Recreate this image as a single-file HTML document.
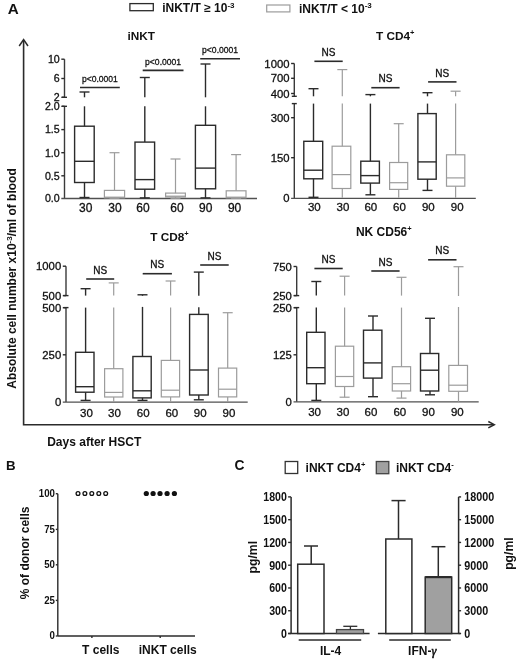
<!DOCTYPE html>
<html><head><meta charset="utf-8"><style>
html,body{margin:0;padding:0;background:#fff;}
svg{display:block;font-family:"Liberation Sans",sans-serif;will-change:transform;}
</style></head><body>
<svg width="520" height="661" viewBox="0 0 520 661">
<rect width="520" height="661" fill="#fff"/>
<line x1="64.50" y1="59.20" x2="64.50" y2="97.30" stroke="#3a3a3a" stroke-width="1.4"/>
<line x1="64.50" y1="106.30" x2="64.50" y2="198.50" stroke="#3a3a3a" stroke-width="1.4"/>
<line x1="62.00" y1="97.30" x2="67.00" y2="97.30" stroke="#2b2b2b" stroke-width="1.4"/>
<line x1="62.00" y1="106.30" x2="67.00" y2="106.30" stroke="#2b2b2b" stroke-width="1.4"/>
<line x1="61.30" y1="59.20" x2="64.50" y2="59.20" stroke="#2b2b2b" stroke-width="1.4"/>
<text x="59.70" y="63.02" font-size="10.6" text-anchor="end" stroke="#111" stroke-width="0.3" fill="#111">10</text>
<line x1="61.30" y1="78.50" x2="64.50" y2="78.50" stroke="#2b2b2b" stroke-width="1.4"/>
<text x="59.70" y="82.32" font-size="10.6" text-anchor="end" stroke="#111" stroke-width="0.3" fill="#111">6</text>
<line x1="61.30" y1="97.30" x2="64.50" y2="97.30" stroke="#2b2b2b" stroke-width="1.4"/>
<text x="59.70" y="101.12" font-size="10.6" text-anchor="end" stroke="#111" stroke-width="0.3" fill="#111">2</text>
<line x1="61.30" y1="106.30" x2="64.50" y2="106.30" stroke="#2b2b2b" stroke-width="1.4"/>
<text x="59.70" y="110.12" font-size="10.6" text-anchor="end" stroke="#111" stroke-width="0.3" fill="#111">2.0</text>
<line x1="61.30" y1="129.60" x2="64.50" y2="129.60" stroke="#2b2b2b" stroke-width="1.4"/>
<text x="59.70" y="133.42" font-size="10.6" text-anchor="end" stroke="#111" stroke-width="0.3" fill="#111">1.5</text>
<line x1="61.30" y1="152.70" x2="64.50" y2="152.70" stroke="#2b2b2b" stroke-width="1.4"/>
<text x="59.70" y="156.52" font-size="10.6" text-anchor="end" stroke="#111" stroke-width="0.3" fill="#111">1.0</text>
<line x1="61.30" y1="175.80" x2="64.50" y2="175.80" stroke="#2b2b2b" stroke-width="1.4"/>
<text x="59.70" y="179.62" font-size="10.6" text-anchor="end" stroke="#111" stroke-width="0.3" fill="#111">0.5</text>
<line x1="61.30" y1="198.50" x2="257.00" y2="198.50" stroke="#505050" stroke-width="1.3"/>
<text x="59.70" y="202.30" font-size="10.6" text-anchor="end" stroke="#111" stroke-width="0.3" fill="#111">0.0</text>
<rect x="74.60" y="126.20" width="19.60" height="56.30" stroke="#2b2b2b" stroke-width="1.4" fill="none"/>
<line x1="74.60" y1="161.30" x2="94.20" y2="161.30" stroke="#2b2b2b" stroke-width="1.4"/>
<line x1="84.50" y1="92.00" x2="84.50" y2="97.30" stroke="#2b2b2b" stroke-width="1.4"/>
<line x1="84.50" y1="106.30" x2="84.50" y2="126.20" stroke="#2b2b2b" stroke-width="1.4"/>
<line x1="79.50" y1="92.00" x2="89.50" y2="92.00" stroke="#2b2b2b" stroke-width="1.4"/>
<line x1="84.50" y1="182.50" x2="84.50" y2="197.50" stroke="#2b2b2b" stroke-width="1.4"/>
<line x1="79.50" y1="197.50" x2="89.50" y2="197.50" stroke="#2b2b2b" stroke-width="1.4"/>
<rect x="104.40" y="190.40" width="20.20" height="7.50" stroke="#9c9c9c" stroke-width="1.2" fill="none"/>
<line x1="104.40" y1="197.20" x2="124.60" y2="197.20" stroke="#9c9c9c" stroke-width="1.2"/>
<line x1="114.50" y1="152.70" x2="114.50" y2="190.40" stroke="#9c9c9c" stroke-width="1.2"/>
<line x1="109.50" y1="152.70" x2="119.50" y2="152.70" stroke="#9c9c9c" stroke-width="1.2"/>
<line x1="114.50" y1="197.90" x2="114.50" y2="198.30" stroke="#9c9c9c" stroke-width="1.2"/>
<line x1="109.50" y1="198.30" x2="119.50" y2="198.30" stroke="#9c9c9c" stroke-width="1.2"/>
<rect x="135.00" y="142.10" width="19.60" height="47.10" stroke="#2b2b2b" stroke-width="1.4" fill="none"/>
<line x1="135.00" y1="179.60" x2="154.60" y2="179.60" stroke="#2b2b2b" stroke-width="1.4"/>
<line x1="144.80" y1="77.50" x2="144.80" y2="97.30" stroke="#2b2b2b" stroke-width="1.4"/>
<line x1="144.80" y1="106.30" x2="144.80" y2="142.10" stroke="#2b2b2b" stroke-width="1.4"/>
<line x1="139.80" y1="77.50" x2="149.80" y2="77.50" stroke="#2b2b2b" stroke-width="1.4"/>
<line x1="144.80" y1="189.20" x2="144.80" y2="197.90" stroke="#2b2b2b" stroke-width="1.4"/>
<line x1="139.80" y1="197.90" x2="149.80" y2="197.90" stroke="#2b2b2b" stroke-width="1.4"/>
<rect x="165.60" y="193.10" width="19.80" height="3.90" stroke="#9c9c9c" stroke-width="1.2" fill="none"/>
<line x1="165.60" y1="196.20" x2="185.40" y2="196.20" stroke="#9c9c9c" stroke-width="1.2"/>
<line x1="175.50" y1="159.00" x2="175.50" y2="193.10" stroke="#9c9c9c" stroke-width="1.2"/>
<line x1="170.50" y1="159.00" x2="180.50" y2="159.00" stroke="#9c9c9c" stroke-width="1.2"/>
<line x1="175.50" y1="197.00" x2="175.50" y2="198.30" stroke="#9c9c9c" stroke-width="1.2"/>
<line x1="170.50" y1="198.30" x2="180.50" y2="198.30" stroke="#9c9c9c" stroke-width="1.2"/>
<rect x="195.40" y="125.30" width="20.20" height="63.50" stroke="#2b2b2b" stroke-width="1.4" fill="none"/>
<line x1="195.40" y1="168.10" x2="215.60" y2="168.10" stroke="#2b2b2b" stroke-width="1.4"/>
<line x1="205.50" y1="64.00" x2="205.50" y2="97.30" stroke="#2b2b2b" stroke-width="1.4"/>
<line x1="205.50" y1="106.30" x2="205.50" y2="125.30" stroke="#2b2b2b" stroke-width="1.4"/>
<line x1="200.50" y1="64.00" x2="210.50" y2="64.00" stroke="#2b2b2b" stroke-width="1.4"/>
<line x1="205.50" y1="188.80" x2="205.50" y2="197.90" stroke="#2b2b2b" stroke-width="1.4"/>
<line x1="200.50" y1="197.90" x2="210.50" y2="197.90" stroke="#2b2b2b" stroke-width="1.4"/>
<rect x="226.20" y="190.80" width="19.80" height="7.10" stroke="#9c9c9c" stroke-width="1.2" fill="none"/>
<line x1="226.20" y1="197.20" x2="246.00" y2="197.20" stroke="#9c9c9c" stroke-width="1.2"/>
<line x1="236.10" y1="154.60" x2="236.10" y2="190.80" stroke="#9c9c9c" stroke-width="1.2"/>
<line x1="231.10" y1="154.60" x2="241.10" y2="154.60" stroke="#9c9c9c" stroke-width="1.2"/>
<line x1="236.10" y1="197.90" x2="236.10" y2="198.30" stroke="#9c9c9c" stroke-width="1.2"/>
<line x1="231.10" y1="198.30" x2="241.10" y2="198.30" stroke="#9c9c9c" stroke-width="1.2"/>
<line x1="80.00" y1="87.50" x2="119.80" y2="87.50" stroke="#2b2b2b" stroke-width="1.6"/>
<text x="99.90" y="82.10" font-size="9.6" text-anchor="middle" stroke="#111" stroke-width="0.3" fill="#111" textLength="36" lengthAdjust="spacingAndGlyphs">p&lt;0.0001</text>
<line x1="142.70" y1="70.40" x2="183.50" y2="70.40" stroke="#2b2b2b" stroke-width="1.6"/>
<text x="163.10" y="65.00" font-size="9.6" text-anchor="middle" stroke="#111" stroke-width="0.3" fill="#111" textLength="36" lengthAdjust="spacingAndGlyphs">p&lt;0.0001</text>
<line x1="200.20" y1="58.80" x2="240.00" y2="58.80" stroke="#2b2b2b" stroke-width="1.6"/>
<text x="220.10" y="53.40" font-size="9.6" text-anchor="middle" stroke="#111" stroke-width="0.3" fill="#111" textLength="36" lengthAdjust="spacingAndGlyphs">p&lt;0.0001</text>
<text x="85.80" y="211.50" font-size="12" text-anchor="middle" stroke="#111" stroke-width="0.3" fill="#111">30</text>
<text x="114.90" y="211.50" font-size="12" text-anchor="middle" stroke="#111" stroke-width="0.3" fill="#111">30</text>
<text x="143.00" y="211.50" font-size="12" text-anchor="middle" stroke="#111" stroke-width="0.3" fill="#111">60</text>
<text x="177.00" y="211.50" font-size="12" text-anchor="middle" stroke="#111" stroke-width="0.3" fill="#111">60</text>
<text x="205.80" y="211.50" font-size="12" text-anchor="middle" stroke="#111" stroke-width="0.3" fill="#111">90</text>
<text x="234.60" y="211.50" font-size="12" text-anchor="middle" stroke="#111" stroke-width="0.3" fill="#111">90</text>
<text x="141.30" y="40.20" font-size="11.8" text-anchor="middle" font-weight="bold" fill="#111">iNKT</text>
<line x1="294.30" y1="63.50" x2="294.30" y2="96.30" stroke="#3a3a3a" stroke-width="1.4"/>
<line x1="294.30" y1="103.60" x2="294.30" y2="198.00" stroke="#3a3a3a" stroke-width="1.4"/>
<line x1="291.80" y1="96.30" x2="296.80" y2="96.30" stroke="#2b2b2b" stroke-width="1.4"/>
<line x1="291.80" y1="103.60" x2="296.80" y2="103.60" stroke="#2b2b2b" stroke-width="1.4"/>
<line x1="291.10" y1="63.50" x2="294.30" y2="63.50" stroke="#2b2b2b" stroke-width="1.4"/>
<text x="289.50" y="67.57" font-size="11.3" text-anchor="end" stroke="#111" stroke-width="0.3" fill="#111">1000</text>
<line x1="291.10" y1="78.30" x2="294.30" y2="78.30" stroke="#2b2b2b" stroke-width="1.4"/>
<text x="289.50" y="82.37" font-size="11.3" text-anchor="end" stroke="#111" stroke-width="0.3" fill="#111">700</text>
<line x1="291.10" y1="93.50" x2="294.30" y2="93.50" stroke="#2b2b2b" stroke-width="1.4"/>
<text x="289.50" y="97.57" font-size="11.3" text-anchor="end" stroke="#111" stroke-width="0.3" fill="#111">400</text>
<line x1="291.10" y1="117.70" x2="294.30" y2="117.70" stroke="#2b2b2b" stroke-width="1.4"/>
<text x="289.50" y="121.77" font-size="11.3" text-anchor="end" stroke="#111" stroke-width="0.3" fill="#111">300</text>
<line x1="291.10" y1="157.70" x2="294.30" y2="157.70" stroke="#2b2b2b" stroke-width="1.4"/>
<text x="289.50" y="161.77" font-size="11.3" text-anchor="end" stroke="#111" stroke-width="0.3" fill="#111">150</text>
<line x1="291.10" y1="198.30" x2="475.80" y2="198.30" stroke="#505050" stroke-width="1.3"/>
<text x="289.50" y="202.00" font-size="11.3" text-anchor="end" stroke="#111" stroke-width="0.3" fill="#111">0</text>
<rect x="303.80" y="141.30" width="18.90" height="37.50" stroke="#2b2b2b" stroke-width="1.4" fill="none"/>
<line x1="303.80" y1="170.20" x2="322.70" y2="170.20" stroke="#2b2b2b" stroke-width="1.4"/>
<line x1="313.50" y1="88.70" x2="313.50" y2="96.30" stroke="#2b2b2b" stroke-width="1.4"/>
<line x1="313.50" y1="103.60" x2="313.50" y2="141.30" stroke="#2b2b2b" stroke-width="1.4"/>
<line x1="308.50" y1="88.70" x2="318.50" y2="88.70" stroke="#2b2b2b" stroke-width="1.4"/>
<line x1="313.50" y1="178.80" x2="313.50" y2="197.30" stroke="#2b2b2b" stroke-width="1.4"/>
<line x1="308.50" y1="197.30" x2="318.50" y2="197.30" stroke="#2b2b2b" stroke-width="1.4"/>
<rect x="332.10" y="146.20" width="18.70" height="42.30" stroke="#9c9c9c" stroke-width="1.2" fill="none"/>
<line x1="332.10" y1="174.60" x2="350.80" y2="174.60" stroke="#9c9c9c" stroke-width="1.2"/>
<line x1="342.30" y1="69.60" x2="342.30" y2="96.30" stroke="#9c9c9c" stroke-width="1.2"/>
<line x1="342.30" y1="103.60" x2="342.30" y2="146.20" stroke="#9c9c9c" stroke-width="1.2"/>
<line x1="337.30" y1="69.60" x2="347.30" y2="69.60" stroke="#9c9c9c" stroke-width="1.2"/>
<line x1="342.30" y1="188.50" x2="342.30" y2="197.80" stroke="#9c9c9c" stroke-width="1.2"/>
<rect x="360.80" y="161.20" width="18.60" height="21.90" stroke="#2b2b2b" stroke-width="1.4" fill="none"/>
<line x1="360.80" y1="175.60" x2="379.40" y2="175.60" stroke="#2b2b2b" stroke-width="1.4"/>
<line x1="370.40" y1="94.60" x2="370.40" y2="96.30" stroke="#2b2b2b" stroke-width="1.4"/>
<line x1="370.40" y1="103.60" x2="370.40" y2="161.20" stroke="#2b2b2b" stroke-width="1.4"/>
<line x1="365.40" y1="94.60" x2="375.40" y2="94.60" stroke="#2b2b2b" stroke-width="1.4"/>
<line x1="370.40" y1="183.10" x2="370.40" y2="194.80" stroke="#2b2b2b" stroke-width="1.4"/>
<line x1="365.40" y1="194.80" x2="375.40" y2="194.80" stroke="#2b2b2b" stroke-width="1.4"/>
<rect x="389.60" y="162.50" width="18.10" height="26.90" stroke="#9c9c9c" stroke-width="1.2" fill="none"/>
<line x1="389.60" y1="182.70" x2="407.70" y2="182.70" stroke="#9c9c9c" stroke-width="1.2"/>
<line x1="398.70" y1="123.70" x2="398.70" y2="162.50" stroke="#9c9c9c" stroke-width="1.2"/>
<line x1="393.70" y1="123.70" x2="403.70" y2="123.70" stroke="#9c9c9c" stroke-width="1.2"/>
<line x1="398.70" y1="189.40" x2="398.70" y2="197.80" stroke="#9c9c9c" stroke-width="1.2"/>
<rect x="417.90" y="113.60" width="18.30" height="65.60" stroke="#2b2b2b" stroke-width="1.4" fill="none"/>
<line x1="417.90" y1="161.90" x2="436.20" y2="161.90" stroke="#2b2b2b" stroke-width="1.4"/>
<line x1="427.50" y1="92.70" x2="427.50" y2="96.30" stroke="#2b2b2b" stroke-width="1.4"/>
<line x1="427.50" y1="103.60" x2="427.50" y2="113.60" stroke="#2b2b2b" stroke-width="1.4"/>
<line x1="422.50" y1="92.70" x2="432.50" y2="92.70" stroke="#2b2b2b" stroke-width="1.4"/>
<line x1="427.50" y1="179.20" x2="427.50" y2="190.40" stroke="#2b2b2b" stroke-width="1.4"/>
<line x1="422.50" y1="190.40" x2="432.50" y2="190.40" stroke="#2b2b2b" stroke-width="1.4"/>
<rect x="446.50" y="154.80" width="18.30" height="31.40" stroke="#9c9c9c" stroke-width="1.2" fill="none"/>
<line x1="446.50" y1="177.90" x2="464.80" y2="177.90" stroke="#9c9c9c" stroke-width="1.2"/>
<line x1="455.60" y1="91.20" x2="455.60" y2="96.30" stroke="#9c9c9c" stroke-width="1.2"/>
<line x1="455.60" y1="103.60" x2="455.60" y2="154.80" stroke="#9c9c9c" stroke-width="1.2"/>
<line x1="450.60" y1="91.20" x2="460.60" y2="91.20" stroke="#9c9c9c" stroke-width="1.2"/>
<line x1="455.60" y1="186.20" x2="455.60" y2="197.80" stroke="#9c9c9c" stroke-width="1.2"/>
<line x1="314.40" y1="61.30" x2="342.70" y2="61.30" stroke="#2b2b2b" stroke-width="1.6"/>
<text x="328.55" y="55.90" font-size="10" text-anchor="middle" stroke="#111" stroke-width="0.3" fill="#111">NS</text>
<line x1="371.30" y1="87.70" x2="399.60" y2="87.70" stroke="#2b2b2b" stroke-width="1.6"/>
<text x="385.45" y="82.30" font-size="10" text-anchor="middle" stroke="#111" stroke-width="0.3" fill="#111">NS</text>
<line x1="428.10" y1="81.90" x2="456.50" y2="81.90" stroke="#2b2b2b" stroke-width="1.6"/>
<text x="442.30" y="76.50" font-size="10" text-anchor="middle" stroke="#111" stroke-width="0.3" fill="#111">NS</text>
<text x="314.30" y="211.30" font-size="11.5" text-anchor="middle" stroke="#111" stroke-width="0.3" fill="#111">30</text>
<text x="343.00" y="211.30" font-size="11.5" text-anchor="middle" stroke="#111" stroke-width="0.3" fill="#111">30</text>
<text x="370.80" y="211.30" font-size="11.5" text-anchor="middle" stroke="#111" stroke-width="0.3" fill="#111">60</text>
<text x="399.50" y="211.30" font-size="11.5" text-anchor="middle" stroke="#111" stroke-width="0.3" fill="#111">60</text>
<text x="428.30" y="211.30" font-size="11.5" text-anchor="middle" stroke="#111" stroke-width="0.3" fill="#111">90</text>
<text x="457.20" y="211.30" font-size="11.5" text-anchor="middle" stroke="#111" stroke-width="0.3" fill="#111">90</text>
<text x="395.20" y="40.20" font-size="11.8" text-anchor="middle" font-weight="bold" fill="#111">T CD4<tspan font-size="7.5" dy="-5">+</tspan></text>
<line x1="66.00" y1="266.20" x2="66.00" y2="295.60" stroke="#3a3a3a" stroke-width="1.4"/>
<line x1="66.00" y1="307.60" x2="66.00" y2="402.10" stroke="#3a3a3a" stroke-width="1.4"/>
<line x1="63.50" y1="295.60" x2="68.50" y2="295.60" stroke="#2b2b2b" stroke-width="1.4"/>
<line x1="63.50" y1="307.60" x2="68.50" y2="307.60" stroke="#2b2b2b" stroke-width="1.4"/>
<line x1="62.80" y1="266.20" x2="66.00" y2="266.20" stroke="#2b2b2b" stroke-width="1.4"/>
<text x="61.20" y="270.27" font-size="11.3" text-anchor="end" stroke="#111" stroke-width="0.3" fill="#111">1000</text>
<line x1="62.80" y1="295.60" x2="66.00" y2="295.60" stroke="#2b2b2b" stroke-width="1.4"/>
<text x="61.20" y="299.67" font-size="11.3" text-anchor="end" stroke="#111" stroke-width="0.3" fill="#111">500</text>
<line x1="62.80" y1="307.70" x2="66.00" y2="307.70" stroke="#2b2b2b" stroke-width="1.4"/>
<text x="61.20" y="311.77" font-size="11.3" text-anchor="end" stroke="#111" stroke-width="0.3" fill="#111">500</text>
<line x1="62.80" y1="354.80" x2="66.00" y2="354.80" stroke="#2b2b2b" stroke-width="1.4"/>
<text x="61.20" y="358.87" font-size="11.3" text-anchor="end" stroke="#111" stroke-width="0.3" fill="#111">250</text>
<line x1="62.80" y1="402.10" x2="247.70" y2="402.10" stroke="#505050" stroke-width="1.3"/>
<text x="61.20" y="406.10" font-size="11.3" text-anchor="end" stroke="#111" stroke-width="0.3" fill="#111">0</text>
<rect x="75.60" y="352.30" width="18.40" height="39.90" stroke="#2b2b2b" stroke-width="1.4" fill="none"/>
<line x1="75.60" y1="386.70" x2="94.00" y2="386.70" stroke="#2b2b2b" stroke-width="1.4"/>
<line x1="85.60" y1="288.70" x2="85.60" y2="295.60" stroke="#2b2b2b" stroke-width="1.4"/>
<line x1="85.60" y1="307.60" x2="85.60" y2="352.30" stroke="#2b2b2b" stroke-width="1.4"/>
<line x1="80.60" y1="288.70" x2="90.60" y2="288.70" stroke="#2b2b2b" stroke-width="1.4"/>
<line x1="85.60" y1="392.20" x2="85.60" y2="400.40" stroke="#2b2b2b" stroke-width="1.4"/>
<line x1="80.60" y1="400.40" x2="90.60" y2="400.40" stroke="#2b2b2b" stroke-width="1.4"/>
<rect x="104.60" y="368.70" width="18.30" height="28.30" stroke="#9c9c9c" stroke-width="1.2" fill="none"/>
<line x1="104.60" y1="392.40" x2="122.90" y2="392.40" stroke="#9c9c9c" stroke-width="1.2"/>
<line x1="113.70" y1="282.90" x2="113.70" y2="295.60" stroke="#9c9c9c" stroke-width="1.2"/>
<line x1="113.70" y1="307.60" x2="113.70" y2="368.70" stroke="#9c9c9c" stroke-width="1.2"/>
<line x1="108.70" y1="282.90" x2="118.70" y2="282.90" stroke="#9c9c9c" stroke-width="1.2"/>
<line x1="113.70" y1="397.00" x2="113.70" y2="402.00" stroke="#9c9c9c" stroke-width="1.2"/>
<rect x="132.90" y="356.50" width="18.30" height="41.40" stroke="#2b2b2b" stroke-width="1.4" fill="none"/>
<line x1="132.90" y1="390.80" x2="151.20" y2="390.80" stroke="#2b2b2b" stroke-width="1.4"/>
<line x1="142.50" y1="294.80" x2="142.50" y2="295.80" stroke="#2b2b2b" stroke-width="1.4"/>
<line x1="142.50" y1="306.90" x2="142.50" y2="356.50" stroke="#2b2b2b" stroke-width="1.4"/>
<line x1="137.50" y1="294.80" x2="147.50" y2="294.80" stroke="#2b2b2b" stroke-width="1.4"/>
<line x1="142.50" y1="397.90" x2="142.50" y2="400.40" stroke="#2b2b2b" stroke-width="1.4"/>
<line x1="137.50" y1="400.40" x2="147.50" y2="400.40" stroke="#2b2b2b" stroke-width="1.4"/>
<rect x="161.30" y="360.40" width="18.30" height="36.50" stroke="#9c9c9c" stroke-width="1.2" fill="none"/>
<line x1="161.30" y1="390.20" x2="179.60" y2="390.20" stroke="#9c9c9c" stroke-width="1.2"/>
<line x1="170.60" y1="281.00" x2="170.60" y2="295.60" stroke="#9c9c9c" stroke-width="1.2"/>
<line x1="170.60" y1="307.60" x2="170.60" y2="360.40" stroke="#9c9c9c" stroke-width="1.2"/>
<line x1="165.60" y1="281.00" x2="175.60" y2="281.00" stroke="#9c9c9c" stroke-width="1.2"/>
<line x1="170.60" y1="396.90" x2="170.60" y2="402.00" stroke="#9c9c9c" stroke-width="1.2"/>
<rect x="189.60" y="314.40" width="18.60" height="80.60" stroke="#2b2b2b" stroke-width="1.4" fill="none"/>
<line x1="189.60" y1="370.00" x2="208.20" y2="370.00" stroke="#2b2b2b" stroke-width="1.4"/>
<line x1="198.80" y1="272.10" x2="198.80" y2="295.80" stroke="#2b2b2b" stroke-width="1.4"/>
<line x1="198.80" y1="307.30" x2="198.80" y2="314.40" stroke="#2b2b2b" stroke-width="1.4"/>
<line x1="193.80" y1="272.10" x2="203.80" y2="272.10" stroke="#2b2b2b" stroke-width="1.4"/>
<line x1="198.80" y1="395.00" x2="198.80" y2="399.80" stroke="#2b2b2b" stroke-width="1.4"/>
<line x1="193.80" y1="399.80" x2="203.80" y2="399.80" stroke="#2b2b2b" stroke-width="1.4"/>
<rect x="218.50" y="368.10" width="18.20" height="28.80" stroke="#9c9c9c" stroke-width="1.2" fill="none"/>
<line x1="218.50" y1="389.20" x2="236.70" y2="389.20" stroke="#9c9c9c" stroke-width="1.2"/>
<line x1="227.70" y1="312.70" x2="227.70" y2="368.10" stroke="#9c9c9c" stroke-width="1.2"/>
<line x1="222.70" y1="312.70" x2="232.70" y2="312.70" stroke="#9c9c9c" stroke-width="1.2"/>
<line x1="227.70" y1="396.90" x2="227.70" y2="402.00" stroke="#9c9c9c" stroke-width="1.2"/>
<line x1="86.20" y1="279.00" x2="114.20" y2="279.00" stroke="#2b2b2b" stroke-width="1.6"/>
<text x="100.20" y="273.60" font-size="10" text-anchor="middle" stroke="#111" stroke-width="0.3" fill="#111">NS</text>
<line x1="142.70" y1="273.70" x2="171.90" y2="273.70" stroke="#2b2b2b" stroke-width="1.6"/>
<text x="157.30" y="268.30" font-size="10" text-anchor="middle" stroke="#111" stroke-width="0.3" fill="#111">NS</text>
<line x1="200.20" y1="265.00" x2="228.70" y2="265.00" stroke="#2b2b2b" stroke-width="1.6"/>
<text x="214.45" y="259.60" font-size="10" text-anchor="middle" stroke="#111" stroke-width="0.3" fill="#111">NS</text>
<text x="86.40" y="417.20" font-size="11.5" text-anchor="middle" stroke="#111" stroke-width="0.3" fill="#111">30</text>
<text x="114.40" y="417.20" font-size="11.5" text-anchor="middle" stroke="#111" stroke-width="0.3" fill="#111">30</text>
<text x="143.20" y="417.20" font-size="11.5" text-anchor="middle" stroke="#111" stroke-width="0.3" fill="#111">60</text>
<text x="171.80" y="417.20" font-size="11.5" text-anchor="middle" stroke="#111" stroke-width="0.3" fill="#111">60</text>
<text x="200.20" y="417.20" font-size="11.5" text-anchor="middle" stroke="#111" stroke-width="0.3" fill="#111">90</text>
<text x="229.00" y="417.20" font-size="11.5" text-anchor="middle" stroke="#111" stroke-width="0.3" fill="#111">90</text>
<text x="169.50" y="240.80" font-size="11.8" text-anchor="middle" font-weight="bold" fill="#111">T CD8<tspan font-size="7.5" dy="-5">+</tspan></text>
<line x1="296.70" y1="266.50" x2="296.70" y2="295.60" stroke="#3a3a3a" stroke-width="1.4"/>
<line x1="296.70" y1="307.60" x2="296.70" y2="401.80" stroke="#3a3a3a" stroke-width="1.4"/>
<line x1="294.20" y1="295.60" x2="299.20" y2="295.60" stroke="#2b2b2b" stroke-width="1.4"/>
<line x1="294.20" y1="307.60" x2="299.20" y2="307.60" stroke="#2b2b2b" stroke-width="1.4"/>
<line x1="293.50" y1="266.50" x2="296.70" y2="266.50" stroke="#2b2b2b" stroke-width="1.4"/>
<text x="291.90" y="270.57" font-size="11.3" text-anchor="end" stroke="#111" stroke-width="0.3" fill="#111">750</text>
<line x1="293.50" y1="295.60" x2="296.70" y2="295.60" stroke="#2b2b2b" stroke-width="1.4"/>
<text x="291.90" y="299.67" font-size="11.3" text-anchor="end" stroke="#111" stroke-width="0.3" fill="#111">250</text>
<line x1="293.50" y1="307.70" x2="296.70" y2="307.70" stroke="#2b2b2b" stroke-width="1.4"/>
<text x="291.90" y="311.77" font-size="11.3" text-anchor="end" stroke="#111" stroke-width="0.3" fill="#111">250</text>
<line x1="293.50" y1="354.80" x2="296.70" y2="354.80" stroke="#2b2b2b" stroke-width="1.4"/>
<text x="291.90" y="358.87" font-size="11.3" text-anchor="end" stroke="#111" stroke-width="0.3" fill="#111">125</text>
<line x1="293.50" y1="401.80" x2="478.70" y2="401.80" stroke="#505050" stroke-width="1.3"/>
<text x="291.90" y="405.80" font-size="11.3" text-anchor="end" stroke="#111" stroke-width="0.3" fill="#111">0</text>
<rect x="306.70" y="332.30" width="18.30" height="51.40" stroke="#2b2b2b" stroke-width="1.4" fill="none"/>
<line x1="306.70" y1="367.70" x2="325.00" y2="367.70" stroke="#2b2b2b" stroke-width="1.4"/>
<line x1="316.30" y1="281.50" x2="316.30" y2="295.60" stroke="#2b2b2b" stroke-width="1.4"/>
<line x1="316.30" y1="307.60" x2="316.30" y2="332.30" stroke="#2b2b2b" stroke-width="1.4"/>
<line x1="311.30" y1="281.50" x2="321.30" y2="281.50" stroke="#2b2b2b" stroke-width="1.4"/>
<line x1="316.30" y1="383.70" x2="316.30" y2="400.40" stroke="#2b2b2b" stroke-width="1.4"/>
<line x1="311.30" y1="400.40" x2="321.30" y2="400.40" stroke="#2b2b2b" stroke-width="1.4"/>
<rect x="335.40" y="346.20" width="18.30" height="40.30" stroke="#9c9c9c" stroke-width="1.2" fill="none"/>
<line x1="335.40" y1="376.50" x2="353.70" y2="376.50" stroke="#9c9c9c" stroke-width="1.2"/>
<line x1="344.60" y1="276.20" x2="344.60" y2="295.60" stroke="#9c9c9c" stroke-width="1.2"/>
<line x1="344.60" y1="307.60" x2="344.60" y2="346.20" stroke="#9c9c9c" stroke-width="1.2"/>
<line x1="339.60" y1="276.20" x2="349.60" y2="276.20" stroke="#9c9c9c" stroke-width="1.2"/>
<line x1="344.60" y1="386.50" x2="344.60" y2="397.20" stroke="#9c9c9c" stroke-width="1.2"/>
<line x1="339.60" y1="397.20" x2="349.60" y2="397.20" stroke="#9c9c9c" stroke-width="1.2"/>
<rect x="363.50" y="330.20" width="18.40" height="47.90" stroke="#2b2b2b" stroke-width="1.4" fill="none"/>
<line x1="363.50" y1="362.90" x2="381.90" y2="362.90" stroke="#2b2b2b" stroke-width="1.4"/>
<line x1="373.00" y1="316.00" x2="373.00" y2="330.20" stroke="#2b2b2b" stroke-width="1.4"/>
<line x1="368.00" y1="316.00" x2="378.00" y2="316.00" stroke="#2b2b2b" stroke-width="1.4"/>
<line x1="373.00" y1="378.10" x2="373.00" y2="396.70" stroke="#2b2b2b" stroke-width="1.4"/>
<line x1="368.00" y1="396.70" x2="378.00" y2="396.70" stroke="#2b2b2b" stroke-width="1.4"/>
<rect x="392.30" y="366.70" width="18.30" height="24.30" stroke="#9c9c9c" stroke-width="1.2" fill="none"/>
<line x1="392.30" y1="383.70" x2="410.60" y2="383.70" stroke="#9c9c9c" stroke-width="1.2"/>
<line x1="401.50" y1="277.30" x2="401.50" y2="295.60" stroke="#9c9c9c" stroke-width="1.2"/>
<line x1="401.50" y1="307.60" x2="401.50" y2="366.70" stroke="#9c9c9c" stroke-width="1.2"/>
<line x1="396.50" y1="277.30" x2="406.50" y2="277.30" stroke="#9c9c9c" stroke-width="1.2"/>
<line x1="401.50" y1="391.00" x2="401.50" y2="398.10" stroke="#9c9c9c" stroke-width="1.2"/>
<line x1="396.50" y1="398.10" x2="406.50" y2="398.10" stroke="#9c9c9c" stroke-width="1.2"/>
<rect x="420.50" y="353.50" width="18.20" height="37.50" stroke="#2b2b2b" stroke-width="1.4" fill="none"/>
<line x1="420.50" y1="370.20" x2="438.70" y2="370.20" stroke="#2b2b2b" stroke-width="1.4"/>
<line x1="430.00" y1="318.30" x2="430.00" y2="353.50" stroke="#2b2b2b" stroke-width="1.4"/>
<line x1="425.00" y1="318.30" x2="435.00" y2="318.30" stroke="#2b2b2b" stroke-width="1.4"/>
<line x1="430.00" y1="391.00" x2="430.00" y2="394.80" stroke="#2b2b2b" stroke-width="1.4"/>
<line x1="425.00" y1="394.80" x2="435.00" y2="394.80" stroke="#2b2b2b" stroke-width="1.4"/>
<rect x="448.80" y="365.40" width="18.70" height="25.90" stroke="#9c9c9c" stroke-width="1.2" fill="none"/>
<line x1="448.80" y1="385.20" x2="467.50" y2="385.20" stroke="#9c9c9c" stroke-width="1.2"/>
<line x1="458.50" y1="266.70" x2="458.50" y2="296.00" stroke="#9c9c9c" stroke-width="1.2"/>
<line x1="458.50" y1="307.00" x2="458.50" y2="365.40" stroke="#9c9c9c" stroke-width="1.2"/>
<line x1="453.50" y1="266.70" x2="463.50" y2="266.70" stroke="#9c9c9c" stroke-width="1.2"/>
<line x1="458.50" y1="391.30" x2="458.50" y2="401.80" stroke="#9c9c9c" stroke-width="1.2"/>
<line x1="314.40" y1="268.50" x2="342.70" y2="268.50" stroke="#2b2b2b" stroke-width="1.6"/>
<text x="328.55" y="263.10" font-size="10" text-anchor="middle" stroke="#111" stroke-width="0.3" fill="#111">NS</text>
<line x1="371.30" y1="271.00" x2="399.60" y2="271.00" stroke="#2b2b2b" stroke-width="1.6"/>
<text x="385.45" y="265.60" font-size="10" text-anchor="middle" stroke="#111" stroke-width="0.3" fill="#111">NS</text>
<line x1="428.10" y1="259.80" x2="456.50" y2="259.80" stroke="#2b2b2b" stroke-width="1.6"/>
<text x="442.30" y="254.40" font-size="10" text-anchor="middle" stroke="#111" stroke-width="0.3" fill="#111">NS</text>
<text x="314.60" y="415.80" font-size="11.5" text-anchor="middle" stroke="#111" stroke-width="0.3" fill="#111">30</text>
<text x="342.90" y="415.80" font-size="11.5" text-anchor="middle" stroke="#111" stroke-width="0.3" fill="#111">30</text>
<text x="371.00" y="415.80" font-size="11.5" text-anchor="middle" stroke="#111" stroke-width="0.3" fill="#111">60</text>
<text x="399.80" y="415.80" font-size="11.5" text-anchor="middle" stroke="#111" stroke-width="0.3" fill="#111">60</text>
<text x="428.50" y="415.80" font-size="11.5" text-anchor="middle" stroke="#111" stroke-width="0.3" fill="#111">90</text>
<text x="457.30" y="415.80" font-size="11.5" text-anchor="middle" stroke="#111" stroke-width="0.3" fill="#111">90</text>
<text x="383.80" y="235.80" font-size="12" text-anchor="middle" font-weight="bold" fill="#111">NK CD56<tspan font-size="7.5" dy="-5">+</tspan></text>
<polyline points="23.6,40 23.6,424.7 493.8,424.7" fill="none" stroke="#2b2b2b" stroke-width="1.6"/>
<polyline points="19.2,46 23.6,39.6 28,46" fill="none" stroke="#2b2b2b" stroke-width="1.5"/>
<polyline points="488.3,421.5 494.3,424.7 488.3,427.9" fill="none" stroke="#2b2b2b" stroke-width="1.5"/>
<text x="16.30" y="278.50" font-size="12" text-anchor="middle" font-weight="bold" fill="#111" transform="rotate(-90 16.3 278.5)">Absolute cell number x10<tspan font-size="8" dy="-4.5">-3</tspan><tspan dy="4.5">/ml of blood</tspan></text>
<text x="47.20" y="445.60" font-size="12" text-anchor="start" font-weight="bold" fill="#111">Days after HSCT</text>
<text x="7.80" y="13.80" font-size="14.6" text-anchor="start" font-weight="bold" fill="#111" textLength="11" lengthAdjust="spacingAndGlyphs">A</text>
<rect x="129.90" y="3.60" width="23.40" height="7.10" stroke="#2b2b2b" stroke-width="1.3" fill="none"/>
<text x="162.20" y="12.40" font-size="12" text-anchor="start" font-weight="bold" fill="#111">iNKT/T ≥ 10<tspan font-size="8" dy="-4.8">-3</tspan></text>
<rect x="266.70" y="5.00" width="23.20" height="6.90" stroke="#9c9c9c" stroke-width="1.2" fill="none"/>
<text x="299.00" y="12.60" font-size="12" text-anchor="start" font-weight="bold" fill="#111">iNKT/T &lt; 10<tspan font-size="8" dy="-4.8">-3</tspan></text>
<text x="6.00" y="470.00" font-size="13.3" text-anchor="start" font-weight="bold" fill="#111">B</text>
<line x1="57.80" y1="493.70" x2="57.80" y2="636.00" stroke="#2b2b2b" stroke-width="1.4"/>
<line x1="57.80" y1="636.00" x2="195.00" y2="636.00" stroke="#2b2b2b" stroke-width="1.4"/>
<line x1="55.80" y1="493.70" x2="57.80" y2="493.70" stroke="#2b2b2b" stroke-width="1.4"/>
<text transform="translate(55.00 497.00) scale(1 1.07)" font-size="9.7" text-anchor="end" font-weight="bold" fill="#111">100</text>
<line x1="55.80" y1="529.40" x2="57.80" y2="529.40" stroke="#2b2b2b" stroke-width="1.4"/>
<text transform="translate(55.00 532.70) scale(1 1.07)" font-size="9.7" text-anchor="end" font-weight="bold" fill="#111">75</text>
<line x1="55.80" y1="564.80" x2="57.80" y2="564.80" stroke="#2b2b2b" stroke-width="1.4"/>
<text transform="translate(55.00 568.10) scale(1 1.07)" font-size="9.7" text-anchor="end" font-weight="bold" fill="#111">50</text>
<line x1="55.80" y1="600.40" x2="57.80" y2="600.40" stroke="#2b2b2b" stroke-width="1.4"/>
<text transform="translate(55.00 603.70) scale(1 1.07)" font-size="9.7" text-anchor="end" font-weight="bold" fill="#111">25</text>
<line x1="55.80" y1="636.00" x2="57.80" y2="636.00" stroke="#2b2b2b" stroke-width="1.4"/>
<text transform="translate(55.00 639.30) scale(1 1.07)" font-size="9.7" text-anchor="end" font-weight="bold" fill="#111">0</text>
<circle cx="78" cy="493.5" r="1.9" fill="none" stroke="#111" stroke-width="1.3"/>
<circle cx="84.9" cy="493.5" r="1.9" fill="none" stroke="#111" stroke-width="1.3"/>
<circle cx="91.8" cy="493.5" r="1.9" fill="none" stroke="#111" stroke-width="1.3"/>
<circle cx="98.8" cy="493.5" r="1.9" fill="none" stroke="#111" stroke-width="1.3"/>
<circle cx="105.7" cy="493.5" r="1.9" fill="none" stroke="#111" stroke-width="1.3"/>
<circle cx="146.3" cy="493.5" r="2.6" fill="#111"/>
<circle cx="153.1" cy="493.5" r="2.6" fill="#111"/>
<circle cx="160" cy="493.5" r="2.6" fill="#111"/>
<circle cx="167.1" cy="493.5" r="2.6" fill="#111"/>
<circle cx="174.4" cy="493.5" r="2.6" fill="#111"/>
<line x1="91.90" y1="636.00" x2="91.90" y2="638.00" stroke="#2b2b2b" stroke-width="1.4"/>
<line x1="160.20" y1="636.00" x2="160.20" y2="638.00" stroke="#2b2b2b" stroke-width="1.4"/>
<text x="100.75" y="653.90" font-size="12" text-anchor="middle" font-weight="bold" fill="#111">T cells</text>
<text x="167.75" y="653.90" font-size="12" text-anchor="middle" font-weight="bold" fill="#111">iNKT cells</text>
<text x="28.60" y="552.90" font-size="12" text-anchor="middle" font-weight="bold" fill="#111" transform="rotate(-90 28.6 552.9)">% of donor cells</text>
<text x="234.50" y="470.30" font-size="13.8" text-anchor="start" font-weight="bold" fill="#111">C</text>
<rect x="285.20" y="461.50" width="12.50" height="12.00" stroke="#333" stroke-width="1.3" fill="#fff"/>
<text x="305.60" y="471.60" font-size="12" text-anchor="start" font-weight="bold" fill="#111">iNKT CD4<tspan font-size="7.5" dy="-4.8">+</tspan></text>
<rect x="376.30" y="461.50" width="12.50" height="12.20" stroke="#444" stroke-width="1.3" fill="#a0a0a0"/>
<text x="395.90" y="471.60" font-size="12" text-anchor="start" font-weight="bold" fill="#111">iNKT CD4<tspan font-size="7.5" dy="-4.8">-</tspan></text>
<line x1="291.10" y1="496.90" x2="291.10" y2="633.50" stroke="#2b2b2b" stroke-width="1.5"/>
<line x1="288.10" y1="633.50" x2="291.10" y2="633.50" stroke="#2b2b2b" stroke-width="1.4"/>
<text transform="translate(286.80 637.80) scale(1 1.15)" font-size="10.6" text-anchor="end" font-weight="bold" fill="#111">0</text>
<line x1="288.10" y1="610.73" x2="291.10" y2="610.73" stroke="#2b2b2b" stroke-width="1.4"/>
<text transform="translate(286.80 615.03) scale(1 1.15)" font-size="10.6" text-anchor="end" font-weight="bold" fill="#111">300</text>
<line x1="288.10" y1="587.97" x2="291.10" y2="587.97" stroke="#2b2b2b" stroke-width="1.4"/>
<text transform="translate(286.80 592.27) scale(1 1.15)" font-size="10.6" text-anchor="end" font-weight="bold" fill="#111">600</text>
<line x1="288.10" y1="565.20" x2="291.10" y2="565.20" stroke="#2b2b2b" stroke-width="1.4"/>
<text transform="translate(286.80 569.50) scale(1 1.15)" font-size="10.6" text-anchor="end" font-weight="bold" fill="#111">900</text>
<line x1="288.10" y1="542.43" x2="291.10" y2="542.43" stroke="#2b2b2b" stroke-width="1.4"/>
<text transform="translate(286.80 546.73) scale(1 1.15)" font-size="10.6" text-anchor="end" font-weight="bold" fill="#111">1200</text>
<line x1="288.10" y1="519.67" x2="291.10" y2="519.67" stroke="#2b2b2b" stroke-width="1.4"/>
<text transform="translate(286.80 523.97) scale(1 1.15)" font-size="10.6" text-anchor="end" font-weight="bold" fill="#111">1500</text>
<line x1="288.10" y1="496.90" x2="291.10" y2="496.90" stroke="#2b2b2b" stroke-width="1.4"/>
<text transform="translate(286.80 501.20) scale(1 1.15)" font-size="10.6" text-anchor="end" font-weight="bold" fill="#111">1800</text>
<line x1="458.60" y1="496.90" x2="458.60" y2="633.50" stroke="#2b2b2b" stroke-width="1.5"/>
<line x1="458.60" y1="633.50" x2="461.10" y2="633.50" stroke="#2b2b2b" stroke-width="1.4"/>
<text transform="translate(464.20 637.80) scale(1 1.15)" font-size="10.8" text-anchor="start" font-weight="bold" fill="#111">0</text>
<line x1="458.60" y1="610.73" x2="461.10" y2="610.73" stroke="#2b2b2b" stroke-width="1.4"/>
<text transform="translate(464.20 615.03) scale(1 1.15)" font-size="10.8" text-anchor="start" font-weight="bold" fill="#111">3000</text>
<line x1="458.60" y1="587.97" x2="461.10" y2="587.97" stroke="#2b2b2b" stroke-width="1.4"/>
<text transform="translate(464.20 592.27) scale(1 1.15)" font-size="10.8" text-anchor="start" font-weight="bold" fill="#111">6000</text>
<line x1="458.60" y1="565.20" x2="461.10" y2="565.20" stroke="#2b2b2b" stroke-width="1.4"/>
<text transform="translate(464.20 569.50) scale(1 1.15)" font-size="10.8" text-anchor="start" font-weight="bold" fill="#111">9000</text>
<line x1="458.60" y1="542.43" x2="461.10" y2="542.43" stroke="#2b2b2b" stroke-width="1.4"/>
<text transform="translate(464.20 546.73) scale(1 1.15)" font-size="10.8" text-anchor="start" font-weight="bold" fill="#111">12000</text>
<line x1="458.60" y1="519.67" x2="461.10" y2="519.67" stroke="#2b2b2b" stroke-width="1.4"/>
<text transform="translate(464.20 523.97) scale(1 1.15)" font-size="10.8" text-anchor="start" font-weight="bold" fill="#111">15000</text>
<line x1="458.60" y1="496.90" x2="461.10" y2="496.90" stroke="#2b2b2b" stroke-width="1.4"/>
<text transform="translate(464.20 501.20) scale(1 1.15)" font-size="10.8" text-anchor="start" font-weight="bold" fill="#111">18000</text>
<line x1="288.20" y1="633.50" x2="369.60" y2="633.50" stroke="#2b2b2b" stroke-width="1.5"/>
<line x1="377.90" y1="633.50" x2="460.40" y2="633.50" stroke="#2b2b2b" stroke-width="1.5"/>
<rect x="297.70" y="564.20" width="26.30" height="69.30" stroke="#2b2b2b" stroke-width="1.5" fill="#fff"/>
<line x1="311.20" y1="546.00" x2="311.20" y2="564.20" stroke="#2b2b2b" stroke-width="1.5"/>
<line x1="304.00" y1="546.00" x2="318.00" y2="546.00" stroke="#2b2b2b" stroke-width="1.5"/>
<rect x="336.50" y="629.60" width="27.00" height="3.90" stroke="#444" stroke-width="1.3" fill="#a0a0a0"/>
<line x1="350.40" y1="626.30" x2="350.40" y2="629.60" stroke="#2b2b2b" stroke-width="1.3"/>
<line x1="343.30" y1="626.30" x2="357.30" y2="626.30" stroke="#2b2b2b" stroke-width="1.3"/>
<rect x="385.80" y="539.00" width="26.10" height="94.50" stroke="#2b2b2b" stroke-width="1.5" fill="#fff"/>
<line x1="398.50" y1="500.60" x2="398.50" y2="539.00" stroke="#2b2b2b" stroke-width="1.5"/>
<line x1="391.50" y1="500.60" x2="405.60" y2="500.60" stroke="#2b2b2b" stroke-width="1.5"/>
<rect x="425.20" y="577.10" width="26.50" height="56.40" stroke="#2b2b2b" stroke-width="1.5" fill="#a0a0a0"/>
<line x1="425.20" y1="577.10" x2="451.70" y2="577.10" stroke="#2b2b2b" stroke-width="2.2"/>
<line x1="438.30" y1="546.70" x2="438.30" y2="577.10" stroke="#2b2b2b" stroke-width="1.5"/>
<line x1="431.50" y1="546.70" x2="445.40" y2="546.70" stroke="#2b2b2b" stroke-width="1.5"/>
<line x1="298.70" y1="640.00" x2="361.20" y2="640.00" stroke="#2b2b2b" stroke-width="1.5"/>
<line x1="389.20" y1="640.00" x2="450.80" y2="640.00" stroke="#2b2b2b" stroke-width="1.5"/>
<text x="330.60" y="654.90" font-size="12" text-anchor="middle" font-weight="bold" fill="#111">IL-4</text>
<text x="422.20" y="654.90" font-size="12" text-anchor="middle" font-weight="bold" fill="#111">IFN<tspan>-</tspan><tspan font-family="Liberation Serif" font-style="italic" font-weight="normal" font-size="12.5" stroke="#111" stroke-width="0.5">γ</tspan></text>
<text x="256.90" y="557.20" font-size="12.2" text-anchor="middle" font-weight="bold" fill="#111" transform="rotate(-90 256.9 557.2)">pg/ml</text>
<text x="513.20" y="553.60" font-size="12.2" text-anchor="middle" font-weight="bold" fill="#111" transform="rotate(-90 513.2 553.6)">pg/ml</text>
</svg>
</body></html>
